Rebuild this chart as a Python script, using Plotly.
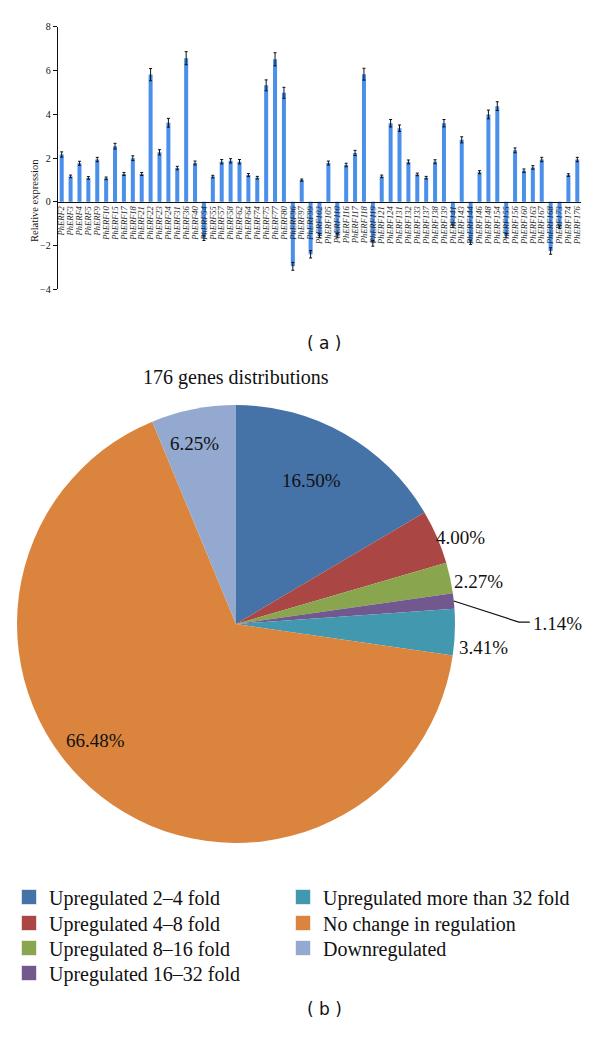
import math
import plotly.graph_objects as go

# ---------------- data ----------------
genes = ["PhERF2", "PhERF3", "PhERF4", "PhERF5", "PhERF9", "PhERF10", "PhERF15", "PhERF17",
         "PhERF18", "PhERF21", "PhERF22", "PhERF23", "PhERF24", "PhERF31", "PhERF36", "PhERF40",
         "PhERF54", "PhERF55", "PhERF57", "PhERF58", "PhERF62", "PhERF64", "PhERF74", "PhERF75",
         "PhERF77", "PhERF80", "PhERF96", "PhERF97", "PhERF99", "PhERF102", "PhERF105", "PhERF110",
         "PhERF116", "PhERF117", "PhERF118", "PhERF119", "PhERF121", "PhERF124", "PhERF131",
         "PhERF132", "PhERF133", "PhERF137", "PhERF138", "PhERF139", "PhERF141", "PhERF143",
         "PhERF144", "PhERF146", "PhERF148", "PhERF154", "PhERF155", "PhERF156", "PhERF160",
         "PhERF163", "PhERF167", "PhERF168", "PhERF173", "PhERF174", "PhERF176"]
expression = [2.16, 1.16, 1.76, 1.09, 1.93, 1.07, 2.54, 1.27,
              1.99, 1.27, 5.81, 2.26, 3.61, 1.54, 6.56, 1.77,
              -1.65, 1.15, 1.83, 1.87, 1.83, 1.22, 1.10, 5.32,
              6.51, 4.98, -2.95, 0.99, -2.40, -1.55, 1.77, -1.55,
              1.68, 2.23, 5.83, -1.90, 1.16, 3.59, 3.36,
              1.82, 1.25, 1.10, 1.83, 3.59, -1.10, 2.83,
              -1.85, 1.35, 3.99, 4.37, -1.55, 2.35, 1.42,
              1.57, 1.93, -2.25, -1.15, 1.22, 1.93]
errors = [0.12, 0.06, 0.09, 0.06, 0.10, 0.06, 0.13, 0.07,
          0.11, 0.07, 0.28, 0.12, 0.20, 0.08, 0.30, 0.09,
          0.12, 0.06, 0.10, 0.10, 0.10, 0.07, 0.06, 0.25,
          0.30, 0.25, 0.18, 0.05, 0.17, 0.10, 0.09, 0.10,
          0.08, 0.12, 0.27, 0.13, 0.06, 0.17, 0.15,
          0.09, 0.06, 0.06, 0.09, 0.17, 0.08, 0.14,
          0.10, 0.07, 0.20, 0.20, 0.10, 0.11, 0.08,
          0.08, 0.10, 0.15, 0.08, 0.06, 0.10]
y_ticks = [-4, -2, 0, 2, 4, 6, 8]

pie_title = "176 genes distributions"
categories = ["Upregulated 2\u20134 fold", "Upregulated 4\u20138 fold", "Upregulated 8\u201316 fold",
              "Upregulated 16\u201332 fold", "Upregulated more than 32 fold",
              "No change in regulation", "Downregulated"]
percentages = [16.50, 4.00, 2.27, 1.14, 3.41, 66.48, 6.25]

# ---------------- style ----------------
W, H = 600, 1038
SERIF = "Liberation Serif, Times New Roman, serif"
bar_color = "#4A8FEA"
pie_colors = ["#4572A7", "#AA4643", "#89A54E", "#71588F", "#4198AF", "#DB843D", "#93A9CF"]
# legend layout: (left x px, row centre y px) per entry
legend_pos = [(9, 897), (9, 923), (9, 948), (9, 973), (283, 897), (283, 923), (283, 948)]
# label placement: (radius factor, angle offset deg)
label_place = [(0.74, -2), (1.10, 2.3), (1.126, 2.3), (1.47, 6.0), (1.135, 3.3), (0.835, 12.5), (0.845, -1.8)]


def px(x):
    return x / W


def py(y):
    return 1 - y / H


# bar chart area (pixels)
bx0, bx1 = 57.7, 581.3
by_top, by_bot = 26.7, 289.3
ymin, ymax = -4, 8
ydom = [py(by_bot), py(by_top)]
zero_pos = ydom[0] + (0 - ymin) / (ymax - ymin) * (ydom[1] - ydom[0])

fig = go.Figure()
fig.add_trace(go.Bar(
    x=genes, y=expression, width=0.45,
    marker=dict(color=bar_color, line=dict(width=0)),
    error_y=dict(type="data", array=errors, color="#111111", thickness=1, width=1.5),
    showlegend=False, xaxis="x", yaxis="y",
))

# pie
cx, cy, r = 236, 624, 219
fig.add_trace(go.Pie(
    labels=categories, values=percentages, sort=False, direction="clockwise", rotation=0,
    marker=dict(colors=pie_colors, line=dict(width=0)),
    textinfo="none", showlegend=False,
    domain=dict(x=[px(cx - r), px(cx + r)], y=[py(cy + r), py(cy - r)]),
))

# legend entries: one legend per entry for exact placement (2 columns)
legend_layouts = {}
for i, (cat, col) in enumerate(zip(categories, pie_colors)):
    name = "legend" if i == 0 else f"legend{i + 1}"
    fig.add_trace(go.Scatter(
        x=[None], y=[None], mode="markers", name=cat,
        marker=dict(symbol="square", size=15, color=col,
                    line=dict(width=1, color="rgba(255,255,255,0.6)")),
        legend=name, xaxis="x", yaxis="y",
    ))
    lx, ly = legend_pos[i]
    legend_layouts[name] = dict(
        x=px(lx), y=py(ly), xanchor="left", yanchor="middle", orientation="v",
        font=dict(family=SERIF, size=20, color="#111111"), bgcolor="rgba(0,0,0,0)",
        itemclick=False, itemdoubleclick=False,
    )

annotations = []
shapes = []
total = sum(percentages)
cum = 0
for i, v in enumerate(percentages):
    mid = (cum + v / 2) / total * 360
    cum += v
    rf, da = label_place[i]
    ang = math.radians(mid + da)
    lx = cx + rf * r * math.sin(ang)
    ly = cy - rf * r * math.cos(ang)
    annotations.append(dict(
        x=px(lx), y=py(ly), xref="paper", yref="paper", showarrow=False,
        text=f"{v:.2f}%", font=dict(family=SERIF, size=19, color="#111111"),
        xanchor="center", yanchor="middle",
    ))
    if i == 3:
        a0 = math.radians(mid)
        ex, ey = cx + r * math.sin(a0), cy - r * math.cos(a0)
        path = (f"M {px(ex)} {py(ey)} L {px(ex + 65)} {py(ey + 21)} "
                f"L {px(ex + 76)} {py(ey + 21)}")
        shapes.append(dict(type="path", path=path, xref="paper", yref="paper",
                           line=dict(color="#111111", width=1.2)))

annotations += [
    dict(x=px(27), y=py(157), xref="paper", yref="paper", showarrow=False,
         text="Relative expression", textangle=-90,
         font=dict(family=SERIF, size=10.5, color="#111111")),
    dict(x=px(236), y=py(377), xref="paper", yref="paper", showarrow=False,
         text=pie_title, font=dict(family=SERIF, size=20, color="#111111")),
    dict(x=px(324), y=py(331), xref="paper", yref="paper", showarrow=False,
         text="( a )", font=dict(family="DejaVu Sans, sans-serif", size=17, color="#111111")),
    dict(x=px(324), y=py(1021), xref="paper", yref="paper", showarrow=False,
         text="( b )", font=dict(family="DejaVu Sans, sans-serif", size=17, color="#111111")),
]

fig.update_layout(
    width=W, height=H, margin=dict(l=0, r=0, t=0, b=0),
    paper_bgcolor="white", plot_bgcolor="white",
    xaxis=dict(domain=[px(bx0), px(bx1)], anchor="free", position=zero_pos,
               range=[-0.45, len(genes) - 0.55], showline=True, linecolor="#111111", linewidth=1,
               tickmode="array", tickvals=genes, ticktext=genes,
               ticks="", tickangle=-90, showgrid=False, zeroline=False, automargin=False,
               tickfont=dict(family=SERIF, size=8.5, color="#222222", style="italic"),
               fixedrange=True),
    yaxis=dict(domain=ydom, range=[ymin, ymax], tickvals=y_ticks, showline=True,
               linecolor="#111111", linewidth=1, ticks="outside", ticklen=4, tickcolor="#111111",
               showgrid=False, zeroline=False, automargin=False,
               tickfont=dict(family=SERIF, size=10, color="#111111")),
    annotations=annotations, shapes=shapes,
    bargap=0.5,
)
fig.update_layout(**legend_layouts)

fig.write_html("out.html", config={"displayModeBar": False},
               post_script="document.body.style.margin='0';")
